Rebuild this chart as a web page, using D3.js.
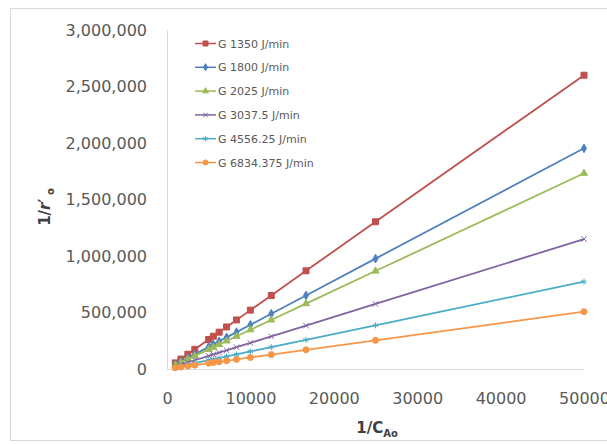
<!DOCTYPE html>
<html>
<head>
<meta charset="utf-8">
<script src="https://cdn.jsdelivr.net/npm/d3@7"></script>
<style>
body { margin: 0; background: #fff; }
text { font-family: "DejaVu Sans", sans-serif; }
.tick text { fill: #595959; font-size: 16px; }
.legend text { fill: #595959; font-size: 11px; }
.title { fill: #404040; font-weight: bold; font-size: 15px; }
</style>
</head>
<body>
<svg width="607" height="444"></svg>
<script>
var svg = d3.select('svg');
var width = +svg.attr('width');
var height = +svg.attr('height');

// 1/C_Ao values (x)
var xValues = [50000, 25000, 16667, 12500, 10000, 8333, 7143, 6250, 5556, 5000, 3333, 2500, 1667, 1000];

var seriesNames = ['G 1350 J/min', 'G 1800 J/min', 'G 2025 J/min', 'G 3037.5 J/min', 'G 4556.25 J/min', 'G 6834.375 J/min'];
var seriesColors = ['#C0504D', '#4F81BD', '#9BBB59', '#8064A2', '#4BACC6', '#F79646'];
var seriesMarkers = ['square', 'diamond', 'triangle', 'cross', 'star', 'circle'];

// 1/r'o values
var g1350 = [2600000, 1303000, 869000, 650000, 521000, 434000, 372000, 326000, 290000, 261000, 174000, 131000, 88000, 54000];
var g1800 = [1953000, 977000, 651000, 489000, 391000, 326000, 280000, 245000, 218000, 196000, 131000, 98000, 66000, 40000];
var g2025 = [1732000, 867000, 578000, 434000, 347000, 290000, 248000, 217000, 193000, 174000, 116000, 87000, 58500, 35500];
var g3037 = [1150000, 576000, 384000, 288000, 231000, 193000, 165000, 145000, 129000, 116000, 77500, 58000, 39000, 23500];
var g4556 = [773000, 387000, 258000, 194000, 155000, 129500, 111000, 97000, 86500, 77800, 52000, 39000, 26200, 15900];
var g6834 = [507000, 254000, 169500, 127000, 102000, 85000, 72800, 63800, 56800, 51100, 34200, 25700, 17300, 10500];

var xTicks = [0, 10000, 20000, 30000, 40000, 50000];
var yTicks = [0, 500000, 1000000, 1500000, 2000000, 2500000, 3000000];

var allSeries = [g1350, g1800, g2025, g3037, g4556, g6834];

var plot = {l: 167, r: 584, t: 30, b: 369};

var xScale = d3.scaleLinear().domain([0, 50000]).range([plot.l, plot.r]);
var yScale = d3.scaleLinear().domain([0, 3000000]).range([plot.b, plot.t]);

// chart border
svg.append('rect')
    .attr('x', 10.5).attr('y', 8.5)
    .attr('width', 600).attr('height', 432)
    .attr('fill', '#fff')
    .attr('stroke', '#d9d9d9');

// axes
var xAxis = svg.append('g')
    .attr('transform', 'translate(0,' + plot.b + ')')
    .call(d3.axisBottom(xScale).tickValues(xTicks).tickSize(0).tickPadding(24).tickFormat(d3.format('d')));
xAxis.select('.domain').attr('stroke', '#d9d9d9');

var yAxis = svg.append('g')
    .attr('transform', 'translate(' + plot.l + ',0)')
    .call(d3.axisLeft(yScale).tickValues(yTicks).tickSize(0).tickPadding(20).tickFormat(d3.format(',')));
yAxis.select('.domain').attr('stroke', '#d9d9d9');

svg.selectAll('.tick text').attr('font-family', 'DejaVu Sans');

function markerPath(type, size) {
    var s = size;
    if (type === 'square') return d3.symbol().type(d3.symbolSquare).size(s * s)();
    if (type === 'diamond') return d3.symbol().type(d3.symbolDiamond).size(s * s * 0.6)();
    if (type === 'triangle') return d3.symbol().type(d3.symbolTriangle).size(s * s * 0.6)();
    if (type === 'circle') return d3.symbol().type(d3.symbolCircle).size(s * s * 0.8)();
    if (type === 'cross') return d3.symbol().type(d3.symbolTimes).size(s * s * 0.6)();
    return d3.symbol().type(d3.symbolAsterisk).size(s * s * 0.7)();
}

var line = d3.line()
    .x(function(d) { return xScale(d[0]); })
    .y(function(d) { return yScale(d[1]); });

allSeries.forEach(function(vals, i) {
    var pts = xValues.map(function(x, j) { return [x, vals[j]]; });
    pts.sort(function(a, b) { return a[0] - b[0]; });
    var g = svg.append('g');
    g.append('path')
        .datum(pts)
        .attr('d', line)
        .attr('fill', 'none')
        .attr('stroke', seriesColors[i])
        .attr('stroke-width', 1.8);
    g.selectAll('path.mk')
        .data(pts)
        .enter().append('path')
        .attr('class', 'mk')
        .attr('transform', function(d) { return 'translate(' + xScale(d[0]) + ',' + yScale(d[1]) + ')'; })
        .attr('d', markerPath(seriesMarkers[i], 6))
        .attr('fill', (seriesMarkers[i] === 'cross' || seriesMarkers[i] === 'star') ? 'none' : seriesColors[i])
        .attr('stroke', seriesColors[i])
        .attr('stroke-width', 1);
});

// legend
var legend = svg.append('g').attr('class', 'legend');
seriesNames.forEach(function(name, i) {
    var y = 43.5 + i * 23.8;
    legend.append('line')
        .attr('x1', 195).attr('x2', 216)
        .attr('y1', y).attr('y2', y)
        .attr('stroke', seriesColors[i])
        .attr('stroke-width', 1.5);
    legend.append('path')
        .attr('transform', 'translate(205.5,' + y + ')')
        .attr('d', markerPath(seriesMarkers[i], 5))
        .attr('fill', (seriesMarkers[i] === 'cross' || seriesMarkers[i] === 'star') ? 'none' : seriesColors[i])
        .attr('stroke', seriesColors[i]);
    legend.append('text')
        .attr('x', 218).attr('y', y + 4)
        .text(name);
});

// axis titles
var xt = svg.append('text').attr('class', 'title')
    .attr('x', 377).attr('y', 433)
    .attr('text-anchor', 'middle');
xt.append('tspan').text('1/C');
xt.append('tspan').attr('font-size', '10px').attr('dy', 4).text('Ao');

var yt = svg.append('text').attr('class', 'title')
    .attr('transform', 'translate(50,207) rotate(-90)')
    .attr('text-anchor', 'middle');
yt.append('tspan').text('1/');
yt.append('tspan').attr('font-style', 'italic').text('r');
yt.append('tspan').text('\u2032');
yt.append('tspan').attr('font-size', '10px').attr('dy', 4).text(' o');
</script>
</body>
</html>
